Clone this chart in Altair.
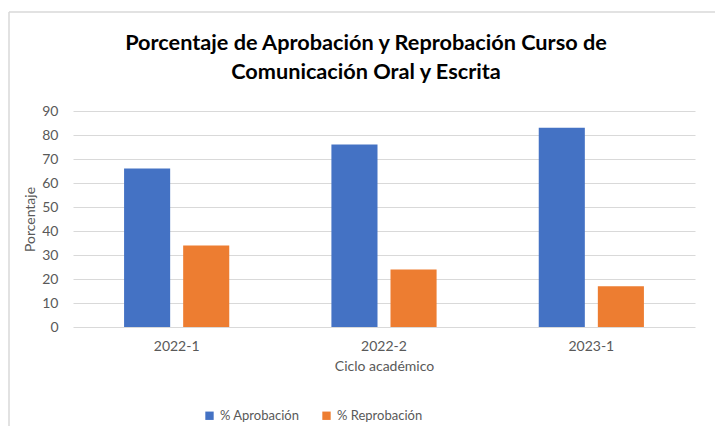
import altair as alt
import pandas as pd

ciclos = ["2022-1", "2022-2", "2023-1"]
series = ["% Aprobación", "% Reprobación"]
aprobacion = [66, 76, 83]
reprobacion = [34, 24, 17]
colores = ["#4472C4", "#ED7D31"]

rows = []
for c, a, r in zip(ciclos, aprobacion, reprobacion):
    rows.append({"ciclo": c, "serie": series[0], "valor": a})
    rows.append({"ciclo": c, "serie": series[1], "valor": r})
df = pd.DataFrame(rows)

FONT = "Lato"
GRAY = "#595959"

bars = alt.Chart(df).mark_bar().encode(
    x=alt.X("ciclo:N", sort=ciclos, title="Ciclo académico",
            scale=alt.Scale(paddingInner=0.43, paddingOuter=0.215),
            axis=alt.Axis(labelAngle=0, ticks=False, domain=False, labelPadding=12,
                          titlePadding=6, labelFontSize=14, titleFontSize=14,
                          labelColor=GRAY, titleColor=GRAY, labelFont=FONT, titleFont=FONT,
                          titleFontWeight="normal")),
    xOffset=alt.XOffset("serie:N", sort=series,
                        scale=alt.Scale(paddingInner=0.22, paddingOuter=0.11)),
    y=alt.Y("valor:Q", title="Porcentaje",
            scale=alt.Scale(domain=[0, 90], nice=False),
            axis=alt.Axis(values=list(range(0, 100, 10)), ticks=False, domain=False,
                          labelPadding=15, titlePadding=4, labelFontSize=14, titleFontSize=14,
                          labelColor=GRAY, titleColor=GRAY, labelFont=FONT, titleFont=FONT,
                          titleFontWeight="normal", gridColor="#d9d9d9")),
    color=alt.Color("serie:N", sort=series,
                    scale=alt.Scale(domain=series, range=colores),
                    legend=alt.Legend(title=None, orient="none", direction="horizontal",
                                      legendX=130, legendY=298, symbolType="square",
                                      symbolSize=70, symbolStrokeWidth=0, labelFontSize=13,
                                      labelColor=GRAY, labelFont=FONT, columnPadding=20)),
)

vline = alt.Chart().mark_rule(color="#d9d9d9", strokeWidth=1.5).encode(
    x=alt.value(-64), y=alt.value(-99), y2=alt.value(315))
hline = alt.Chart().mark_rule(color="#d9d9d9", strokeWidth=1.5).encode(
    y=alt.value(-99), x=alt.value(-64), x2=alt.value(642))

chart = alt.layer(bars, vline, hline).properties(
    width=622, height=216,
    title=alt.TitleParams(
        ["Porcentaje de Aprobación y Reprobación Curso de", "Comunicación Oral y Escrita"],
        font=FONT, fontSize=21.7, fontWeight="bold", color="#000000",
        anchor="middle", dx=-18, offset=-72, lineHeight=29),
    autosize=alt.AutoSizeParams(type="none"),
    padding={"left": 73, "top": 111, "right": 20, "bottom": 99},
    background="white",
).configure_view(stroke=None)

chart.save("out.html", embed_options={"renderer": "svg", "actions": False})
